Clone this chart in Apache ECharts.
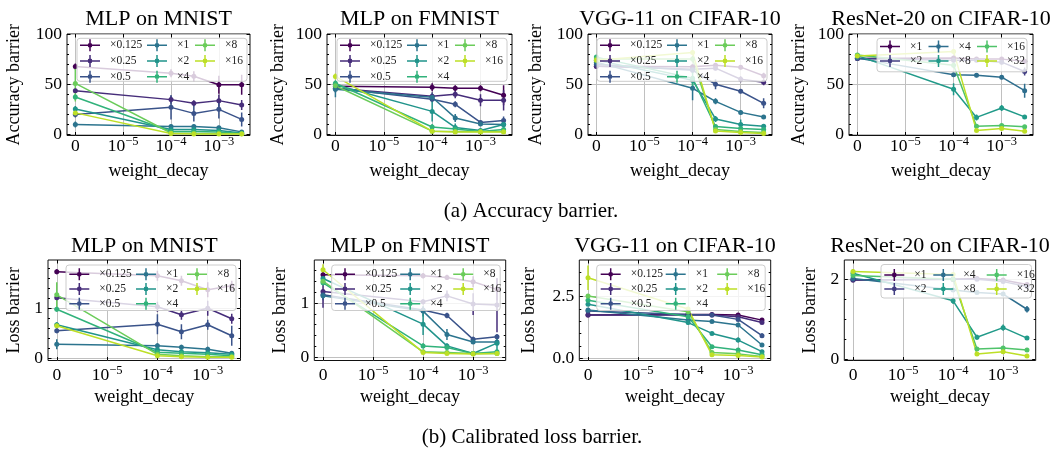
<!DOCTYPE html>
<html><head><meta charset="utf-8">
<script src="https://cdn.jsdelivr.net/npm/echarts@6/dist/echarts.min.js"></script>
<style>html,body{margin:0;padding:0;background:#fff}#c{width:1058px;height:457px}</style>
</head><body><div id="c"></div><script>
// ---------------- data ----------------
const weightDecay = [0, 1e-4, 3e-4, 1e-3, 3e-3];
const xTickDecays = [0, 1e-5, 1e-4, 1e-3];
const xTickExponents = ['', '−5', '−4', '−3'];
const widthsSmall = ['×0.125', '×0.25', '×0.5', '×1', '×2', '×4', '×8', '×16'];
const widthsResNet = ['×1', '×2', '×4', '×8', '×16', '×32'];
const panelTitles = ['MLP on MNIST', 'MLP on FMNIST', 'VGG-11 on CIFAR-10', 'ResNet-20 on CIFAR-10'];
const yNames = ['Accuracy barrier', 'Loss barrier'];
const captions = ['(a) Accuracy barrier.', '(b) Calibrated loss barrier.'];
const xName = 'weight_decay';

const accTicks = [0, 50, 100];
const accMinor = [10, 20, 30, 40, 60, 70, 80, 90];
const lossMnistTicks = [0, 1];
const lossMnistMinor = [0.2, 0.4, 0.6, 0.8, 1.2, 1.4, 1.6, 1.8];
const lossFmnistTicks = [0, 1];
const lossFmnistMinor = [0.2, 0.4, 0.6, 0.8, 1.2, 1.4, 1.6];
const lossVggTicks = [0, 2.5];
const lossVggMinor = [0.5, 1, 1.5, 2, 3, 3.5];
const lossResnetTicks = [0, 2];
const lossResnetMinor = [0.5, 1, 1.5];

// Accuracy barrier (mean, error) per width multiplier, at weightDecay
const accMnist = [
  [67.7, 61, 58, 49.5, 49.5],
  [43.6, 34.7, 31, 33.7, 29.4],
  [20, 27, 21, 25, 15],
  [10, 8, 8, 6.6, 2.6],
  [25.4, 5, 5, 4, 1.5],
  [37.3, 3, 3, 2.5, 1],
  [50.8, 1.5, 1.2, 1, 0.8],
  [21.5, 1, 0.6, 0.5, 0.5]
];
const accMnistErr = [
  [3, 4, 5, 9, 10], [2, 4, 3, 6, 5], [3, 12, 8, 9, 7], [3, 2, 2, 2, 1],
  [3, 2, 2, 1.5, 1], [3, 1, 1, 1, 0.5], [18, 0.5, 0.5, 0.5, 0.5], [3, 0.3, 0.3, 0.3, 0.3]
];
const accFmnist = [
  [48, 47, 46, 46, 39],
  [46, 38, 40, 34, 34],
  [46, 35, 30, 12, 14],
  [45, 37, 16.5, 10.5, 10],
  [49.5, 23, 7, 4, 10],
  [51, 7.5, 5.5, 3, 5],
  [48.5, 3.3, 3, 3, 3],
  [57.8, 3.3, 2.6, 2.6, 2.6]
];
const accFmnistErr = [
  [3, 4, 3, 3, 10], [4, 4, 4, 6, 10], [4, 3, 3, 2, 4], [8, 4, 4, 2, 2],
  [3, 10, 4, 1, 5], [3, 3, 2, 1, 2], [3, 1, 1, 1, 1], [3, 1, 1, 1, 1]
];
const accVgg = [
  [68, 67.5, 69, 67, 58.5],
  [68, 65, 66, 55, 52],
  [70, 64, 50, 43, 31],
  [72, 46, 33, 22, 17.5],
  [74, 54, 15.5, 10, 8.3],
  [77, 56, 8, 6, 5],
  [75, 75, 5, 3, 2],
  [74, 81.5, 3.5, 2, 1]
];
const accVggErr = [
  [2, 2, 2, 2, 3], [2, 2, 2, 3, 3], [2, 3, 5, 2, 5], [2, 12, 3, 2, 2],
  [2, 3, 3, 5, 2], [2, 10, 2, 1, 1], [2, 3, 1, 1, 1], [2, 2, 1, 1, 1]
];
const accResnet = [
  [75.6, 76, 75, 75, 73],
  [75.6, 74, 74, 72, 62.7],
  [76, 59.4, 59, 57, 43.6],
  [78.5, 45, 17, 26.4, 17.5],
  [79, 69, 8.3, 9, 7.6],
  [78, 82.5, 4, 6, 3.3]
];
const accResnetErr = [
  [1.5, 1.5, 1.5, 1.5, 2], [1.5, 1.5, 1.5, 2, 4], [1.5, 2, 2, 2, 7],
  [1.5, 6, 3, 3, 2], [1.5, 3, 1, 1, 1], [1.5, 2, 1, 1, 1]
];
// Calibrated loss barrier
const lossMnist = [
  [1.73, 1.65, 1.55, 1.37, 1.45],
  [1.21, 1.03, 0.87, 1.0, 0.79],
  [0.55, 0.68, 0.53, 0.67, 0.45],
  [0.28, 0.25, 0.22, 0.18, 0.1],
  [0.67, 0.17, 0.13, 0.11, 0.08],
  [0.98, 0.12, 0.1, 0.08, 0.05],
  [1.27, 0.08, 0.05, 0.03, 0.03],
  [0.65, 0.05, 0.03, 0.02, 0.02]
];
const lossMnistErr = [
  [0.05, 0.1, 0.1, 0.15, 0.1], [0.05, 0.1, 0.1, 0.15, 0.1], [0.05, 0.2, 0.15, 0.1, 0.2],
  [0.1, 0.05, 0.05, 0.05, 0.03], [0.05, 0.05, 0.05, 0.03, 0.03], [0.05, 0.03, 0.03, 0.03, 0.02],
  [0.25, 0.02, 0.02, 0.02, 0.02], [0.05, 0.02, 0.02, 0.02, 0.02]
];
const lossFmnist = [
  [1.52, 1.50, 1.47, 1.39, 1.25],
  [1.21, 1.02, 1.13, 0.98, 0.96],
  [1.15, 0.87, 0.77, 0.33, 0.38],
  [1.13, 0.85, 0.42, 0.28, 0.28],
  [1.45, 0.61, 0.21, 0.07, 0.26],
  [1.37, 0.21, 0.18, 0.07, 0.1],
  [1.40, 0.1, 0.09, 0.07, 0.07],
  [1.61, 0.09, 0.07, 0.06, 0.07]
];
const lossFmnistErr = [
  [0.05, 0.05, 0.05, 0.1, 0.2], [0.3, 0.05, 0.1, 0.2, 0.5], [0.1, 0.05, 0.05, 0.05, 0.05],
  [0.05, 0.1, 0.1, 0.03, 0.03], [0.05, 0.2, 0.05, 0.02, 0.15], [0.05, 0.05, 0.03, 0.02, 0.03],
  [0.05, 0.02, 0.02, 0.02, 0.02], [0.1, 0.02, 0.02, 0.02, 0.02]
];
const lossVgg = [
  [1.76, 1.78, 1.78, 1.76, 1.55],
  [1.76, 1.76, 1.76, 1.69, 1.45],
  [1.92, 1.78, 1.76, 1.58, 0.92],
  [1.96, 1.55, 1.49, 1.35, 0.54],
  [2.19, 1.45, 1.01, 0.74, 0.27],
  [2.36, 1.69, 0.47, 0.34, 0.14],
  [2.53, 1.89, 0.24, 0.18, 0.07],
  [3.27, 2.0, 0.14, 0.11, 0.05]
];
const lossVggErr = [
  [0.08, 0.05, 0.05, 0.05, 0.05], [0.08, 0.05, 0.05, 0.05, 0.05], [0.05, 0.05, 0.05, 0.05, 0.1],
  [0.05, 0.05, 0.05, 0.05, 0.05], [0.05, 0.1, 0.05, 0.1, 0.05], [0.05, 0.1, 0.05, 0.05, 0.03],
  [0.05, 0.1, 0.05, 0.03, 0.02], [0.5, 0.05, 0.05, 0.03, 0.02]
];
const lossResnet = [
  [1.98, 2.0, 2.02, 1.98, 1.87],
  [1.98, 2.0, 2.0, 1.94, 1.82],
  [2.02, 1.73, 1.67, 1.63, 1.25],
  [2.15, 1.46, 0.55, 0.79, 0.53],
  [2.09, 2.0, 0.26, 0.28, 0.23],
  [2.19, 2.12, 0.13, 0.19, 0.08]
];
const lossResnetErr = [
  [0.03, 0.03, 0.03, 0.03, 0.05], [0.03, 0.03, 0.03, 0.03, 0.05], [0.03, 0.05, 0.04, 0.04, 0.08],
  [0.1, 0.08, 0.06, 0.08, 0.03], [0.05, 0.05, 0.03, 0.03, 0.03], [0.05, 0.05, 0.03, 0.03, 0.03]
];

// ---------------- style / layout ----------------
const FONT = "'Liberation Serif','Times New Roman',serif";
const viridis8 = ['#440154', '#462d7a', '#3a538a', '#2c748e', '#21948b', '#31b27b', '#6bcc5a', '#bddf26'];
const viridis6 = ['#440154', '#423e83', '#2e6e8e', '#219a89', '#4fc36a', '#bddf26'];
const GRID_C = '#c0c0c0';
const LINTHRESH = 1e-5;
function symlog(x) { return x < LINTHRESH ? x / LINTHRESH : Math.log10(x / LINTHRESH) + 1; }
const xTickPos = xTickDecays.map(symlog);
const X_MIN = -0.174, X_MAX = 3.651;

const TOP = {top: 34, height: 101.5, xNameGap: 26.5, xLabelMargin: 0, titleY: 19.3};
const BOT = {top: 260, height: 100.5, xNameGap: 28, xLabelMargin: 3.5, titleY: 246.3};

const panels = [
  {row: TOP, left: 67, width: 183, title: panelTitles[0], names: widthsSmall, colors: viridis8, mean: accMnist, err: accMnistErr,
   y: {min: -1, max: 100, ticks: accTicks, minor: accMinor, fmt: v => String(v)}, yName: yNames[0], yNameGap: 44,
   legend: {x: 77, y: 38.3, w: 170, h: 43, cols: [3, 70, 118], first: 7, pitch: 15.7}},
  {row: TOP, left: 327, width: 185, title: panelTitles[1], names: widthsSmall, colors: viridis8, mean: accFmnist, err: accFmnistErr,
   y: {min: -1, max: 100, ticks: accTicks, minor: accMinor, fmt: v => String(v)}, yName: yNames[0], yNameGap: 40,
   legend: {x: 337, y: 38.3, w: 170, h: 43, cols: [3, 70, 118], first: 7, pitch: 15.7}},
  {row: TOP, left: 588, width: 184, title: panelTitles[2], names: widthsSmall, colors: viridis8, mean: accVgg, err: accVggErr,
   y: {min: -1, max: 100, ticks: accTicks, minor: accMinor, fmt: v => String(v)}, yName: yNames[0], yNameGap: 43,
   legend: {x: 597, y: 38.3, w: 170, h: 43, cols: [3, 70, 118], first: 7, pitch: 15.7}},
  {row: TOP, left: 849, width: 184, title: panelTitles[3], names: widthsResNet, colors: viridis6, mean: accResnet, err: accResnetErr,
   y: {min: -1, max: 100, ticks: accTicks, minor: accMinor, fmt: v => String(v)}, yName: yNames[0], yNameGap: 41,
   legend: {x: 877, y: 38.3, w: 150, h: 33.5, cols: [3, 51.5, 100], first: 8.3, pitch: 14.3}},
  {row: BOT, left: 48, width: 192.5, title: panelTitles[0], names: widthsSmall, colors: viridis8, mean: lossMnist, err: lossMnistErr,
   y: {min: -0.044, max: 1.966, ticks: lossMnistTicks, minor: lossMnistMinor, fmt: v => String(v)}, yName: yNames[1], yNameGap: 25,
   legend: {x: 66, y: 265, w: 170, h: 45.5, cols: [3.3, 70, 121], first: 9.3, pitch: 14.7}},
  {row: BOT, left: 314.3, width: 191.4, title: panelTitles[1], names: widthsSmall, colors: viridis8, mean: lossFmnist, err: lossFmnistErr,
   y: {min: -0.059, max: 1.79, ticks: lossFmnistTicks, minor: lossFmnistMinor, fmt: v => String(v)}, yName: yNames[1], yNameGap: 25.5,
   legend: {x: 331.7, y: 265, w: 168.5, h: 45.5, cols: [3.3, 68.5, 121.5], first: 9.3, pitch: 14.7}},
  {row: BOT, left: 579.3, width: 191.4, title: panelTitles[2], names: widthsSmall, colors: viridis8, mean: lossVgg, err: lossVggErr,
   y: {min: -0.089, max: 3.99, ticks: lossVggTicks, minor: lossVggMinor, fmt: v => v.toFixed(1)}, yName: yNames[1], yNameGap: 41,
   legend: {x: 596.7, y: 265, w: 168.5, h: 45.5, cols: [4, 69, 120.5], first: 9.3, pitch: 14.7}},
  {row: BOT, left: 844.3, width: 191.4, title: panelTitles[3], names: widthsResNet, colors: viridis6, mean: lossResnet, err: lossResnetErr,
   y: {min: -0.03, max: 2.48, ticks: lossResnetTicks, minor: lossResnetMinor, fmt: v => String(v)}, yName: yNames[1], yNameGap: 25.5,
   legend: {x: 881, y: 264.5, w: 150.5, h: 33.5, cols: [3.3, 52.3, 105.7], first: 10.5, pitch: 14}}
];

// legend handle: line + errorbar + dot, with blank room on the right (text gap)
const ICON = 'path://M0,5.25H20V6.75H0Z M9.25,0H10.75V12H9.25Z M7.6,6A2.4,2.4,0,1,1,12.4,6A2.4,2.4,0,1,1,7.6,6Z M24.95,5.99H25V6H24.95Z';

function renderErr(params, api) {
  const x = api.value(0), lo = api.value(1), hi = api.value(2);
  const p1 = api.coord([x, lo]), p2 = api.coord([x, hi]);
  return {type: 'line', shape: {x1: p1[0], y1: p1[1], x2: p2[0], y2: p2[1]},
          style: {stroke: api.visual('color'), lineWidth: 1.5}};
}

const option = {
  animation: false,
  backgroundColor: '#fff',
  grid: [], xAxis: [], yAxis: [], series: [], legend: [], title: [],
  graphic: {elements: []}
};

const tickStyle = {color: '#000', width: 1};
const labelBase = {color: '#000', fontFamily: FONT, fontSize: 17.5};

panels.forEach((p, i) => {
  option.grid.push({left: p.left, top: p.row.top, width: p.width, height: p.row.height, show: true,
    borderColor: '#111', borderWidth: 1, backgroundColor: 'transparent', containLabel: false, outerBoundsMode: 'none'});
  const xi = option.xAxis.length;
  option.xAxis.push({
    gridIndex: i, type: 'value', position: 'bottom', min: X_MIN, max: X_MAX,
    axisLine: {show: false, onZero: false},
    axisTick: {show: true, inside: true, length: 3.5, customValues: xTickPos, lineStyle: tickStyle},
    axisLabel: {show: true, customValues: xTickPos, margin: p.row.xLabelMargin,
      formatter: v => { const k = xTickPos.indexOf(v); return k <= 0 ? '{b|0}' : '{b|10}{s|' + xTickExponents[k] + '}'; },
      rich: {b: {fontSize: 17.5, fontFamily: FONT, color: '#000', lineHeight: 22},
             s: {fontSize: 12.5, fontFamily: FONT, color: '#000', lineHeight: 12.5, verticalAlign: 'top'}}},
    splitLine: {show: true, lineStyle: {color: GRID_C, width: 1}},
    name: xName, nameLocation: 'middle', nameGap: p.row.xNameGap,
    nameTextStyle: {color: '#000', fontFamily: FONT, fontSize: 18}
  });
  option.xAxis.push({
    gridIndex: i, type: 'value', position: 'top', min: X_MIN, max: X_MAX,
    axisLine: {show: false, onZero: false},
    axisTick: {show: true, inside: true, length: 3.5, customValues: xTickPos, lineStyle: tickStyle},
    axisLabel: {show: false}, splitLine: {show: false}
  });
  const yi = option.yAxis.length;
  const yBase = {gridIndex: i, type: 'value', min: p.y.min, max: p.y.max, axisLine: {show: false, onZero: false}};
  option.yAxis.push(Object.assign({}, yBase, {
    position: 'left',
    axisTick: {show: true, inside: true, length: 3.5, customValues: p.y.ticks, lineStyle: tickStyle},
    axisLabel: Object.assign({show: true, customValues: p.y.ticks, margin: 5, formatter: p.y.fmt}, labelBase),
    splitLine: {show: true, lineStyle: {color: GRID_C, width: 1}},
    name: p.yName, nameLocation: 'middle', nameRotate: 90, nameGap: p.yNameGap,
    nameTextStyle: {color: '#000', fontFamily: FONT, fontSize: 18}
  }));
  option.yAxis.push(Object.assign({}, yBase, {position: 'left',
    axisTick: {show: true, inside: true, length: 2, customValues: p.y.minor, lineStyle: tickStyle},
    axisLabel: {show: false}, splitLine: {show: false}}));
  option.yAxis.push(Object.assign({}, yBase, {position: 'right',
    axisTick: {show: true, inside: true, length: 3.5, customValues: p.y.ticks, lineStyle: tickStyle},
    axisLabel: {show: false}, splitLine: {show: false}}));
  option.yAxis.push(Object.assign({}, yBase, {position: 'right',
    axisTick: {show: true, inside: true, length: 2, customValues: p.y.minor, lineStyle: tickStyle},
    axisLabel: {show: false}, splitLine: {show: false}}));

  const keys = [];
  p.names.forEach((nm, k) => {
    const key = 'P' + i + '|' + nm;
    keys.push(key);
    const color = p.colors[k];
    const pts = weightDecay.map((w, j) => [symlog(w), p.mean[k][j]]);
    const errs = weightDecay.map((w, j) => [symlog(w), p.mean[k][j] - p.err[k][j], p.mean[k][j] + p.err[k][j]]);
    option.series.push({type: 'custom', name: key + '|err', xAxisIndex: xi, yAxisIndex: yi, data: errs,
      encode: {x: 0, y: [1, 2]}, renderItem: renderErr, itemStyle: {color}, clip: true, silent: true, z: 2});
    option.series.push({type: 'line', name: key, xAxisIndex: xi, yAxisIndex: yi, data: pts,
      symbol: 'circle', symbolSize: 5, showSymbol: true, color,
      lineStyle: {width: 1.5, color}, itemStyle: {color, borderWidth: 0}, clip: true, silent: true,
      emphasis: {disabled: true}, z: 2});
  });

  // legend: box + column legends
  const L = p.legend;
  option.graphic.elements.push({type: 'rect', z: 3, silent: true,
    shape: {x: L.x, y: L.y, width: L.w, height: L.h, r: 3},
    style: {fill: 'rgba(255,255,255,0.8)', stroke: '#cccccc', lineWidth: 1}});
  const perCol = p.names.length === 8 ? 3 : 2;
  L.cols.forEach((cx, c) => {
    const items = keys.slice(c * perCol, (c + 1) * perCol);
    option.legend.push({
      show: true, orient: 'vertical', left: L.x + cx, top: L.y + L.first - 6, padding: 0,
      itemGap: L.pitch - 12, itemWidth: 25, itemHeight: 12, icon: ICON, selectedMode: false, z: 4,
      data: items, formatter: n => n.split('|')[1],
      itemStyle: {borderWidth: 0},
      textStyle: {color: '#222', fontFamily: FONT, fontSize: 11.5, lineHeight: 12}
    });
  });

  // subplot title
  option.title.push({text: p.title, left: p.left + p.width / 2, top: p.row.titleY, textAlign: 'center',
    textVerticalAlign: 'middle', padding: 0,
    textStyle: {color: '#000', fontFamily: FONT, fontSize: 22, fontWeight: 'normal', lineHeight: 22}});
});

option.title.push({text: captions[0], left: 531, top: 211.5, textAlign: 'center', textVerticalAlign: 'middle', padding: 0,
  textStyle: {color: '#000', fontFamily: FONT, fontSize: 21, fontWeight: 'normal', lineHeight: 21}});
option.title.push({text: captions[1], left: 532, top: 437.6, textAlign: 'center', textVerticalAlign: 'middle', padding: 0,
  textStyle: {color: '#000', fontFamily: FONT, fontSize: 21, fontWeight: 'normal', lineHeight: 21}});

const chart = echarts.init(document.getElementById('c'), null, {renderer: 'canvas'});
chart.setOption(option);
</script></body></html>
